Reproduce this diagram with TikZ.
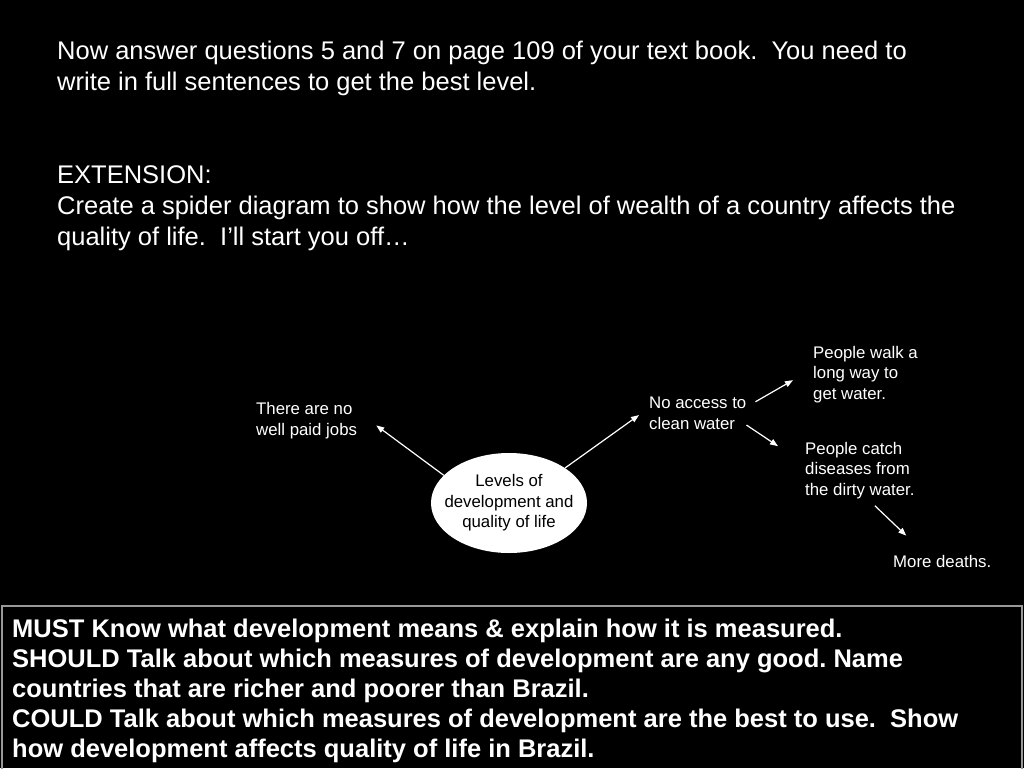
\documentclass[tikz,border=0pt]{standalone}
\usepackage{fontspec}
\setmainfont{Liberation Sans}
\usetikzlibrary{shapes.geometric,arrows.meta}
\frenchspacing
\tikzset{
  txt/.style={text=white, align=left, inner sep=0pt, anchor=base west},
  bigtxt/.style={txt, font=\fontsize{25.5}{31}\selectfont},
  spider/.style={txt, font=\fontsize{16.8}{20.5}\selectfont},
  arr/.style={white, line width=1.2pt, -{Triangle[length=8pt,width=6pt]}}
}
\begin{document}
\begin{tikzpicture}[x=1pt,y=-1pt]
  % page
  \fill[black] (0,0) rectangle (1024,768);
  \useasboundingbox (0,0) rectangle (1024,768);
  % task text
  \node[bigtxt] (task) at (57,90) {Now answer questions 5 and 7 on page 109 of your text book.\ \ You need to\\write in full sentences to get the best level.};
  \node[bigtxt] (ext) at (57,245) {EXTENSION:\\Create a spider diagram to show how the level of wealth of a country affects the\\quality of life.\ \ I’ll start you off…};
  % spider diagram
  \node[ellipse, fill=white, minimum width=156pt, minimum height=100pt, inner xsep=-12pt, inner ysep=0pt,
        align=center, font=\fontsize{16.8}{20.5}\selectfont] (hub) at (509,503) {Levels of\\development and\\quality of life};
  \node[spider] (jobs) at (256,435) {There are no\\well paid jobs};
  \node[spider] (water) at (649,429) {No access to\\clean water};
  \node[spider] (walk) at (813,399) {People walk a\\long way to\\get water.};
  \node[spider] (ill) at (805,495) {People catch\\diseases from\\the dirty water.};
  \node[spider] (deaths) at (893,567) {More deaths.};
  \draw[arr] (hub.157) -- ([xshift=19pt,yshift=-5pt]jobs.east);
  \draw[arr] (hub.32) -- ([xshift=-10pt,yshift=-2pt]water.west);
  \draw[arr] ([xshift=9pt,yshift=-5pt]water.north east) -- ([xshift=-20pt,yshift=-6pt]walk.west);
  \draw[arr] ([yshift=-12pt]water.east) -- ([xshift=-27pt,yshift=24pt]ill.west);
  \draw[arr] ([xshift=15pt,yshift=-7pt]ill.south) -- ([xshift=-36pt,yshift=19pt]deaths.north);
  % must / should / could box
  \draw[gray!80, line width=2pt] (2,780) -- (2,606) -- (1022,606) -- (1022,780);
  \node[txt, font=\fontsize{25.5}{30}\selectfont\bfseries] (goals) at (12,757)
    {MUST Know what development means \& explain how it is measured.\\
     SHOULD Talk about which measures of development are any good. Name\\
     countries that are richer and poorer than Brazil.\\
     COULD Talk about which measures of development are the best to use.\ \ Show\\
     how development affects quality of life in Brazil.};
\end{tikzpicture}
\end{document}
